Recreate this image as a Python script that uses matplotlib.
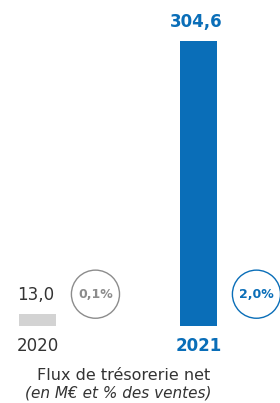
import matplotlib
matplotlib.use("Agg")
import matplotlib.pyplot as plt

years = ["2020", "2021"]
values = [13.0, 304.6]
value_labels = ["13,0", "304,6"]
pct_labels = ["0,1%", "2,0%"]

BLUE = "#0A6EB8"
GRAY_BAR = "#D3D3D3"
GRAY_TXT = "#8C8C8C"
DARK = "#333333"

plt.rcParams['font.family'] = ['DejaVu Sans']

W, H = 280, 403
fig = plt.figure(figsize=(W / 100, H / 100), dpi=100)
ax = fig.add_axes([0, (H - 326) / H, 1, (326 - 41) / H])
x = [0, 1]
ax.set_xlim(-37.5 / 161, (W - 37.5) / 161)
ax.set_ylim(0, values[1])

bar_colors = [GRAY_BAR, BLUE]
ax.bar(x, values, width=37 / 161, color=bar_colors)

label_colors = [DARK, BLUE]
label_weights = ["normal", "bold"]
for xi, v, lab, c, w in zip(x, values, value_labels, label_colors, label_weights):
    ax.annotate(lab, (xi, v), xytext=(-1.5, 7), textcoords="offset points",
                ha="center", va="bottom", fontsize=12,
                color=c, fontweight=w)

# percentage circles
circ_colors = [GRAY_TXT, BLUE]
circ_y = 34
for xi, p, c in zip(x, pct_labels, circ_colors):
    ax.scatter([xi + 0.36], [circ_y], s=1200, facecolors="none",
               edgecolors=c, linewidths=1.0, clip_on=False)
    ax.text(xi + 0.36, circ_y, p, ha="center", va="center", fontsize=9,
            color=c, fontweight="bold")

ax.set_xticks(x)
ax.set_xticklabels(years)
ax.tick_params(axis="x", length=0, pad=8, labelsize=12)
for t, c, w in zip(ax.get_xticklabels(), label_colors, label_weights):
    t.set_color(c)
    t.set_fontweight(w)
ax.set_yticks([])
for s in ax.spines.values():
    s.set_visible(False)

fig.text(124 / W, (H - 375) / H, "Flux de trésorerie net", ha="center",
         va="center", fontsize=11.5, color=DARK)
fig.text(118 / W, (H - 393) / H, "(en M€ et % des ventes)", ha="center",
         va="center", fontsize=11, color=DARK, style="italic")

fig.savefig("out.png", dpi=100)
